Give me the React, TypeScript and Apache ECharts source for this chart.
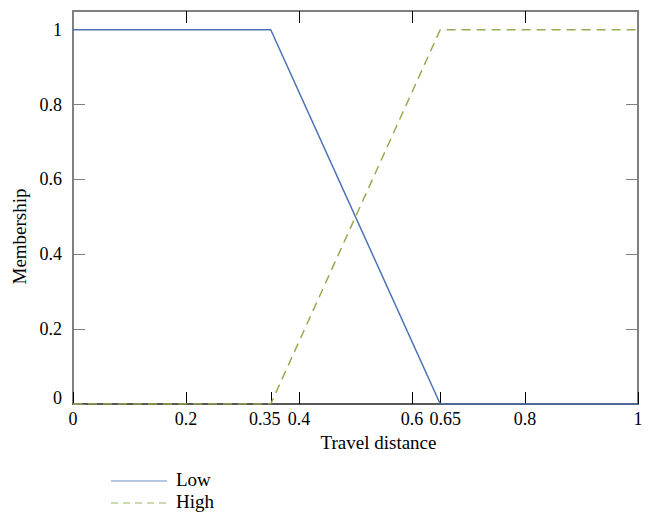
import React, { useEffect, useRef } from "react";
import * as echarts from "echarts";

const lowData: [number, number][] = [[0, 1], [0.35, 1], [0.65, 0], [1, 0]];
const highData: [number, number][] = [[0, 0], [0.35, 0], [0.65, 1], [1, 1]];
const xBottomTicks = [0, 0.2, 0.35, 0.4, 0.6, 0.65, 0.8, 1];
const xTopTicks = [0.2, 0.4, 0.6, 0.8];
const yTicks = [0, 0.2, 0.4, 0.6, 0.8, 1];
const yRightTicks = [0.2, 0.4, 0.6, 0.8];
const seriesNames = ["Low", "High"];

const FONT = "Liberation Serif";
const BLUE = "#4a72b5";
const GREEN = "#93ad4e";
const BOX = "#808080";

export default function App() {
  const ref = useRef<HTMLDivElement>(null);
  useEffect(() => {
    const chart = echarts.init(ref.current!, null, { renderer: "svg" });
    const lbl = { fontFamily: FONT, fontSize: 18, color: "#000" };
    chart.setOption({
      animation: false,
      grid: { left: 73, right: 15, top: 11, bottom: 108 },
      xAxis: [
        {
          type: "value",
          min: 0,
          max: 1,
          position: "bottom",
          name: "Travel distance",
          nameLocation: "middle",
          nameGap: 28,
          nameTextStyle: { fontFamily: FONT, fontSize: 19, color: "#000", padding: [0, 0, 0, 46] },
          axisLine: { show: true, onZero: false, lineStyle: { color: "#222", width: 1.5 } },
          axisTick: { show: true, inside: true, length: 12, customValues: xBottomTicks, lineStyle: { color: "#000" } },
          axisLabel: {
            customValues: xBottomTicks, ...lbl, margin: 6,
            formatter: (v: number) =>
              v === 0.35 ? "{l|0.35}" : v === 0.65 ? "{r|0.65}" : String(v),
            rich: {
              l: { ...lbl, padding: [0, 12, 0, 0] },
              r: { ...lbl, padding: [0, 0, 0, 10] },
            },
          },
          splitLine: { show: false },
        },
        {
          type: "value",
          min: 0,
          max: 1,
          position: "top",
          axisLine: { show: true, onZero: false, lineStyle: { color: BOX, width: 2 } },
          axisTick: { show: true, inside: true, length: 12, customValues: xTopTicks, lineStyle: { color: "#000" } },
          axisLabel: { show: false },
          splitLine: { show: false },
        },
      ],
      yAxis: [
        {
          type: "value",
          min: 0,
          max: 1.05,
          position: "left",
          name: "Membership",
          nameLocation: "middle",
          nameGap: 42,
          nameRotate: 90,
          nameTextStyle: { fontFamily: FONT, fontSize: 19, color: "#000", padding: [0, 58, 0, 0] },
          axisLine: { show: true, onZero: false, lineStyle: { color: BOX, width: 2 } },
          axisTick: { show: true, inside: true, length: 12, customValues: yTicks, lineStyle: { color: BOX } },
          axisLabel: {
            customValues: yTicks, ...lbl, margin: 11,
            formatter: (v: number) => (v === 0 ? "{z|0}" : String(v)),
            rich: { z: { ...lbl, padding: [0, 0, 12, 0] } },
          },
          splitLine: { show: false },
        },
        {
          type: "value",
          min: 0,
          max: 1.05,
          position: "right",
          axisLine: { show: true, onZero: false, lineStyle: { color: BOX, width: 2 } },
          axisTick: { show: true, inside: true, length: 12, customValues: yRightTicks, lineStyle: { color: BOX } },
          axisLabel: { show: false },
          splitLine: { show: false },
        },
      ],
      series: [
        {
          name: seriesNames[0],
          type: "line",
          data: lowData,
          symbol: "none",
          lineStyle: { color: BLUE, width: 1.5 },
          z: 3,
        },
        {
          name: seriesNames[1],
          type: "line",
          data: highData,
          symbol: "none",
          lineStyle: { color: GREEN, width: 1.5, type: [9, 6] },
          z: 4,
        },
      ],
      graphic: [
        { type: "line", shape: { x1: 111, y1: 481, x2: 167, y2: 481 }, style: { stroke: "#9ab3d9", lineWidth: 1.5 } },
        { type: "text", x: 176, y: 479, style: { text: seriesNames[0], font: `19px "${FONT}"`, fill: "#000", verticalAlign: "middle" } },
        { type: "line", shape: { x1: 111, y1: 503, x2: 167, y2: 503 }, style: { stroke: "#b9cc95", lineWidth: 1.5, lineDash: [7, 5] } },
        { type: "text", x: 176, y: 501, style: { text: seriesNames[1], font: `19px "${FONT}"`, fill: "#000", verticalAlign: "middle" } },
      ],
    });
    return () => chart.dispose();
  }, []);
  return <div ref={ref} style={{ width: 653, height: 512, position: "absolute", left: 0, top: 0 }} />;
}
